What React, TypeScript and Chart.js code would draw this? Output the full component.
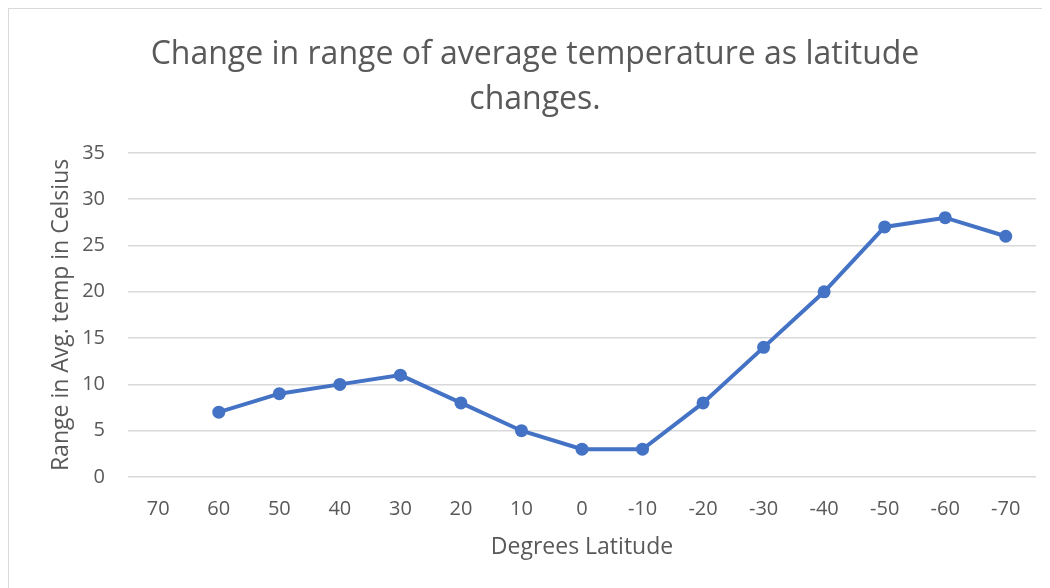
import React, { useEffect, useRef } from "react";
import { Chart, registerables } from "chart.js";

Chart.register(...registerables);

const categories = ["70", "60", "50", "40", "30", "20", "10", "0", "-10", "-20", "-30", "-40", "-50", "-60", "-70"];
const rangeValues: (number | null)[] = [null, 7, 9, 10, 11, 8, 5, 3, 3, 8, 14, 20, 27, 28, 26];
const titleLines = ["Change in range of average temperature as latitude", "changes."];
const xTitle = "Degrees Latitude";
const yTitle = "Range in Avg. temp in Celsius";

const FONT = "'Open Sans', 'DejaVu Sans', sans-serif";
const GREY = "#595959";

export default function App() {
  const ref = useRef<HTMLCanvasElement>(null);
  useEffect(() => {
    document.documentElement.style.overflow = "hidden";
    const chart = new Chart(ref.current!, {
      type: "line",
      data: {
        labels: categories,
        datasets: [
          {
            data: rangeValues,
            borderColor: "#4472C4",
            backgroundColor: "#4472C4",
            borderWidth: 4,
            pointRadius: 6.5,
            pointBorderWidth: 0,
            pointBackgroundColor: "#4472C4",
            tension: 0,
          },
        ],
      },
      options: {
        animation: false,
        responsive: false,
        layout: { padding: { left: 25, right: 27, top: 23, bottom: 23 } },
        plugins: {
          legend: { display: false },
          tooltip: { enabled: false },
          title: {
            display: true,
            text: titleLines,
            color: GREY,
            font: { family: FONT, size: 32, weight: "normal", lineHeight: 1.42 },
            padding: { top: 0, bottom: 30 },
          },
        },
        scales: {
          x: {
            offset: true,
            grid: { display: false, drawTicks: false },
            border: { display: false },
            ticks: { color: GREY, font: { family: FONT, size: 20 }, padding: 20, maxRotation: 0 },
            title: { display: true, text: xTitle, color: GREY, font: { family: FONT, size: 23 }, padding: { top: 4, bottom: 4 } },
            afterFit: (s: any) => { s.height = 88; },
          },
          y: {
            min: 0,
            max: 35,
            ticks: { stepSize: 5, color: GREY, font: { family: FONT, size: 20 }, padding: 23 },
            grid: { color: "#d9d9d9", lineWidth: 1.5, drawTicks: false },
            border: { display: false },
            title: { display: true, text: yTitle, color: GREY, font: { family: FONT, size: 23 }, padding: { top: 14, bottom: 4 } },
            afterFit: (s: any) => { s.width = 94; },
          },
        },
      },
    });
    return () => chart.destroy();
  }, []);
  return (
    <div style={{ width: 1054, height: 600, border: "1px solid #d9d9d9", background: "#fff" }}>
      <canvas ref={ref} width={1054} height={579} style={{ display: "block" }} />
    </div>
  );
}
